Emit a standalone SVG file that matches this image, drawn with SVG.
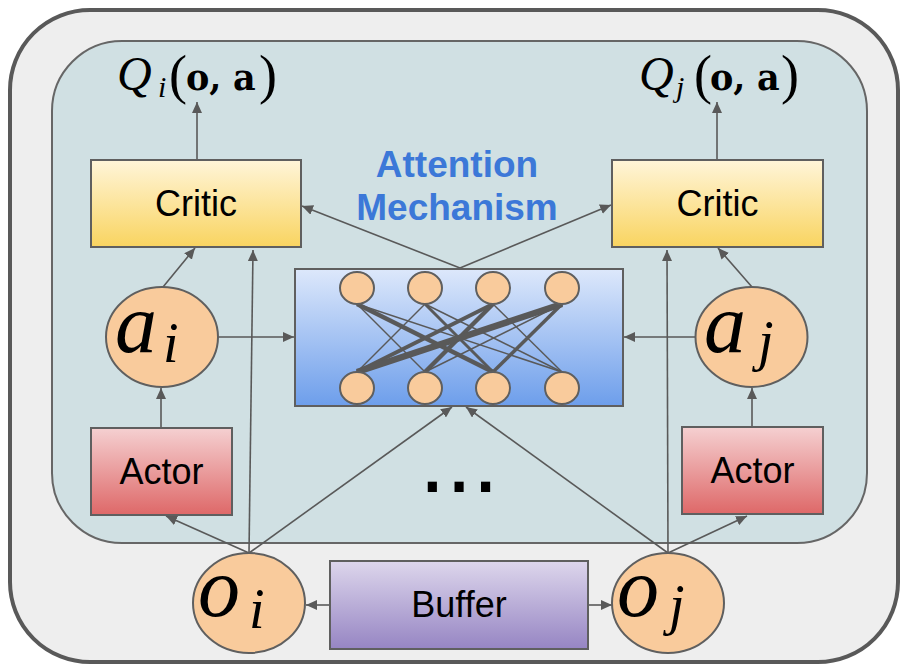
<svg xmlns="http://www.w3.org/2000/svg" width="903" height="666" viewBox="0 0 903 666">
  <defs>
    <linearGradient id="gCritic" x1="0" y1="0" x2="0" y2="1">
      <stop offset="0" stop-color="#fff5d9"/>
      <stop offset="1" stop-color="#f9d460"/>
    </linearGradient>
    <linearGradient id="gActor" x1="0" y1="0" x2="0" y2="1">
      <stop offset="0" stop-color="#f5d0d1"/>
      <stop offset="1" stop-color="#de6868"/>
    </linearGradient>
    <linearGradient id="gBuffer" x1="0" y1="0" x2="0" y2="1">
      <stop offset="0" stop-color="#ddd6ec"/>
      <stop offset="1" stop-color="#9685c3"/>
    </linearGradient>
    <linearGradient id="gAttn" x1="0" y1="0" x2="0" y2="1">
      <stop offset="0" stop-color="#dde8fb"/>
      <stop offset="1" stop-color="#6d9eeb"/>
    </linearGradient>
    <marker id="arr" markerUnits="userSpaceOnUse" markerWidth="12" markerHeight="10" refX="11" refY="5" orient="auto">
      <path d="M0,0 L11,5 L0,10 z" fill="#595959"/>
    </marker>
  </defs>
  <style>
    .box{stroke:#5f5f5f;stroke-width:2}
    .ell{fill:#f9cb9c;stroke:#5f5f5f;stroke-width:2}
    .lbl{font-family:"Liberation Sans",Arial,sans-serif;font-size:36px;fill:#000;text-anchor:middle}
    .title{font-family:"Liberation Sans",Arial,sans-serif;font-size:37px;font-weight:bold;fill:#3c78d8;text-anchor:middle}
    .mi{font-family:"Liberation Serif","Times New Roman",serif;font-style:italic;fill:#000}
    .mr{font-family:"Liberation Serif","Times New Roman",serif;fill:#000}
    .mb{font-family:"DejaVu Serif","Liberation Serif",serif;font-weight:bold;fill:#000}
    .conn line{stroke:#595959;stroke-width:1.6;fill:none;marker-end:url(#arr)}
    .net line{stroke:#595959;fill:none}
    .neuron{fill:#f9cb9c;stroke:#5f5f5f;stroke-width:2}
  </style>

  <!-- outer frame and agent container -->
  <rect x="10" y="10" width="888" height="652" rx="80" ry="80" fill="#eeeeee" stroke="#595959" stroke-width="4"/>
  <rect x="52" y="41" width="815" height="502" rx="70" ry="70" fill="#d0e0e3" stroke="#666666" stroke-width="2"/>

  <!-- Q-value outputs -->
  <g id="q-i">
    <text class="mi" x="117" y="90" font-size="48">Q</text>
    <text class="mi" x="158" y="97" font-size="30">i</text>
    <text class="mr" x="169" y="93" font-size="54">(</text>
    <text class="mb" x="186" y="90" font-size="35">o,</text>
    <text class="mb" x="233" y="90" font-size="35">a</text>
    <text class="mr" x="259" y="93" font-size="54">)</text>
  </g>
  <g id="q-j">
    <text class="mi" x="639" y="90" font-size="48">Q</text>
    <text class="mi" x="676" y="97" font-size="30">j</text>
    <text class="mr" x="694" y="93" font-size="54">(</text>
    <text class="mb" x="710" y="90" font-size="35">o,</text>
    <text class="mb" x="757" y="90" font-size="35">a</text>
    <text class="mr" x="781" y="93" font-size="54">)</text>
  </g>

  <!-- connectors -->
  <g id="connectors" class="conn">
    <line x1="197" y1="160" x2="197" y2="102"/>
    <line x1="717" y1="160" x2="717" y2="102"/>
    <line x1="460" y1="268" x2="302" y2="206"/>
    <line x1="460" y1="268" x2="611" y2="205"/>
    <line x1="163" y1="287" x2="195" y2="248"/>
    <line x1="218" y1="337" x2="294" y2="337"/>
    <line x1="752" y1="287" x2="718" y2="248"/>
    <line x1="696" y1="337" x2="624" y2="337"/>
    <line x1="161" y1="428" x2="161" y2="388"/>
    <line x1="752" y1="427" x2="752" y2="388"/>
    <line x1="249" y1="553" x2="166" y2="516"/>
    <line x1="249" y1="553" x2="253" y2="250"/>
    <line x1="249" y1="553" x2="452" y2="407"/>
    <line x1="668" y1="553" x2="747" y2="516"/>
    <line x1="668" y1="553" x2="667" y2="250"/>
    <line x1="668" y1="553" x2="466" y2="407"/>
    <line x1="330" y1="605" x2="306" y2="605"/>
    <line x1="588" y1="605" x2="612" y2="605"/>
  </g>

  <g id="critic-i">
    <rect class="box" x="91" y="160" width="210" height="87" fill="url(#gCritic)"/>
    <text class="lbl" x="196" y="216">Critic</text>
  </g>
  <g id="critic-j">
    <rect class="box" x="612" y="160" width="211" height="87" fill="url(#gCritic)"/>
    <text class="lbl" x="717.5" y="216">Critic</text>
  </g>

  <g id="attention-title">
    <text class="title" x="457" y="177">Attention</text>
    <text class="title" x="457" y="220">Mechanism</text>
  </g>

  <g id="attention">
    <rect class="box" x="295" y="269" width="328" height="137" fill="url(#gAttn)"/>
    <g class="net">
      <line x1="357" y1="304" x2="425" y2="372" stroke-width="1.5"/>
      <line x1="357" y1="304" x2="493" y2="372" stroke-width="4.5"/>
      <line x1="357" y1="304" x2="562" y2="372" stroke-width="1.5"/>
      <line x1="425" y1="304" x2="357" y2="372" stroke-width="1.5"/>
      <line x1="425" y1="304" x2="493" y2="372" stroke-width="3"/>
      <line x1="425" y1="304" x2="562" y2="372" stroke-width="1.5"/>
      <line x1="493" y1="304" x2="357" y2="372" stroke-width="4"/>
      <line x1="493" y1="304" x2="425" y2="372" stroke-width="4.5"/>
      <line x1="493" y1="304" x2="562" y2="372" stroke-width="1.5"/>
      <line x1="562" y1="304" x2="357" y2="372" stroke-width="6.5"/>
      <line x1="562" y1="304" x2="425" y2="372" stroke-width="1.5"/>
      <line x1="562" y1="304" x2="493" y2="372" stroke-width="3.5"/>
    </g>
    <ellipse class="neuron" cx="357" cy="288" rx="17" ry="16"/>
    <ellipse class="neuron" cx="425" cy="288" rx="17" ry="16"/>
    <ellipse class="neuron" cx="493" cy="288" rx="17" ry="16"/>
    <ellipse class="neuron" cx="562" cy="288" rx="17" ry="16"/>
    <ellipse class="neuron" cx="357" cy="388" rx="17" ry="16"/>
    <ellipse class="neuron" cx="425" cy="388" rx="17" ry="16"/>
    <ellipse class="neuron" cx="493" cy="388" rx="17" ry="16"/>
    <ellipse class="neuron" cx="562" cy="388" rx="17" ry="16"/>
  </g>

  <g id="action-i">
    <ellipse class="ell" cx="162" cy="337" rx="56" ry="50"/>
    <text class="mi" x="115" y="352" font-size="84">a</text>
    <text class="mi" x="163" y="362" font-size="56">i</text>
  </g>
  <g id="action-j">
    <ellipse class="ell" cx="751.5" cy="337" rx="56" ry="50"/>
    <text class="mi" x="704" y="352" font-size="84">a</text>
    <text class="mi" x="758" y="360" font-size="56">j</text>
  </g>

  <g id="actor-i">
    <rect class="box" x="91" y="428" width="141" height="87" fill="url(#gActor)"/>
    <text class="lbl" x="161.5" y="484">Actor</text>
  </g>
  <g id="actor-j">
    <rect class="box" x="682" y="427" width="141" height="87" fill="url(#gActor)"/>
    <text class="lbl" x="752.5" y="483">Actor</text>
  </g>

  <g id="ellipsis">
    <text x="419" y="492" font-family="Liberation Sans, Arial, sans-serif" font-size="96" fill="#000">...</text>
  </g>

  <g id="obs-i">
    <ellipse class="ell" cx="249" cy="603" rx="56" ry="50"/>
    <text class="mi" x="198" y="616" font-size="84">o</text>
    <text class="mi" x="249" y="628" font-size="56">i</text>
  </g>
  <g id="obs-j">
    <ellipse class="ell" cx="668" cy="603" rx="56" ry="50"/>
    <text class="mi" x="617" y="616" font-size="84">o</text>
    <text class="mi" x="669" y="624" font-size="56">j</text>
  </g>

  <g id="buffer">
    <rect class="box" x="330" y="561" width="258" height="88" fill="url(#gBuffer)"/>
    <text class="lbl" x="459" y="617">Buffer</text>
  </g>
</svg>
